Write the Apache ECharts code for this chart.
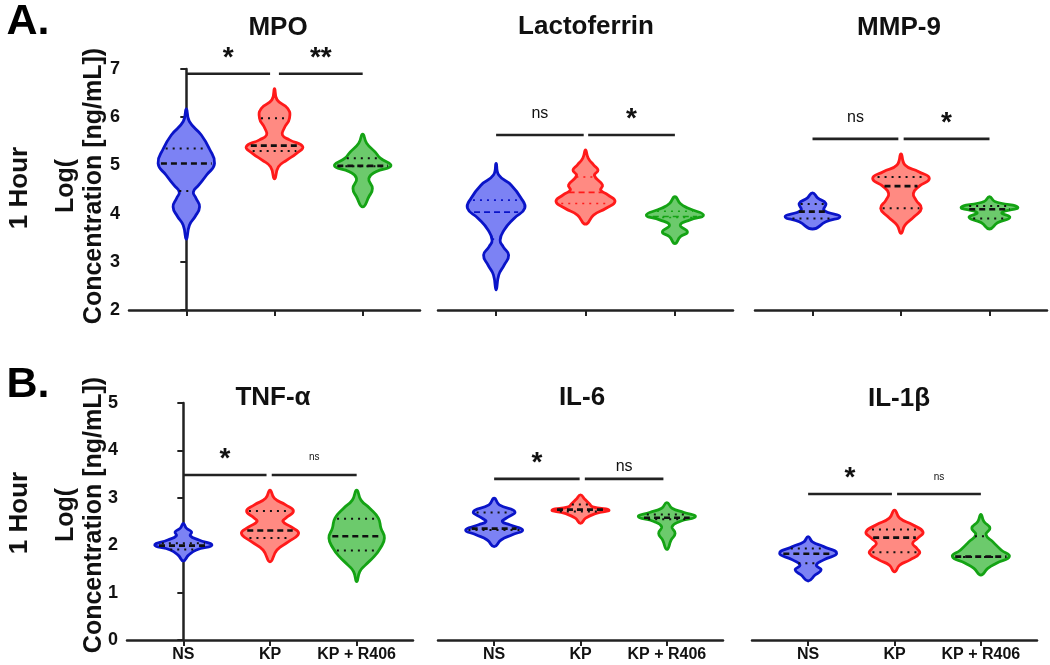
<!DOCTYPE html>
<html>
<head>
<meta charset="utf-8">
<script src="https://cdn.jsdelivr.net/npm/echarts@6/dist/echarts.min.js"></script>
<style>
html,body{margin:0;padding:0;background:#fff;}
#chart{width:1050px;height:665px;}
</style>
</head>
<body>
<div id="chart"></div>
<script>
// ---------------- DATA ----------------
const categories = ['NS', 'KP', 'KP + R406'];
const panelTitles = ['MPO', 'Lactoferrin', 'MMP-9', 'TNF-α', 'IL-6', 'IL-1β'];
const rowLetters = ['A.', 'B.'];
const rowName = '1 Hour';
const yAxisName = 'Log(\nConcentration [ng/mL])';
const topRange = [2, 7];
const bottomRange = [0, 5];

// violin profiles: [value, half-width (in category units)]
const mpoNS  = [[6.17,0],[5.91,0.035],[5.63,0.17],[5.35,0.26],[5.04,0.32],[4.80,0.23],[4.59,0.14],[4.45,0.08],[4.32,0.11],[4.14,0.15],[3.94,0.10],[3.76,0.035],[3.47,0]];
const mpoKP  = [[6.59,0],[6.36,0.03],[6.18,0.15],[5.98,0.17],[5.77,0.11],[5.63,0.09],[5.53,0.17],[5.39,0.32],[5.25,0.25],[5.11,0.14],[4.97,0.045],[4.72,0]];
const mpoKPR = [[5.65,0],[5.46,0.045],[5.28,0.14],[5.15,0.2],[4.99,0.32],[4.87,0.15],[4.73,0.07],[4.52,0.11],[4.35,0.07],[4.14,0]];

const lacNS  = [[5.04,0],[4.80,0.03],[4.59,0.17],[4.32,0.28],[4.11,0.32],[3.90,0.2],[3.66,0.09],[3.45,0.045],[3.31,0.08],[3.14,0.14],[2.93,0.09],[2.73,0.03],[2.42,0]];
const lacKP  = [[5.32,0],[5.15,0.03],[5.01,0.09],[4.90,0.14],[4.79,0.10],[4.59,0.19],[4.49,0.17],[4.39,0.25],[4.25,0.33],[4.11,0.23],[3.97,0.09],[3.78,0]];
const lacKPR = [[4.35,0],[4.21,0.06],[4.11,0.15],[3.97,0.32],[3.87,0.17],[3.76,0.06],[3.62,0.14],[3.52,0.06],[3.38,0]];

const mmpNS  = [[4.43,0],[4.32,0.06],[4.21,0.15],[4.07,0.13],[3.94,0.31],[3.83,0.15],[3.68,0]];
const mmpKP  = [[5.24,0],[5.01,0.045],[4.87,0.2],[4.73,0.32],[4.56,0.2],[4.42,0.14],[4.28,0.17],[4.11,0.23],[3.94,0.15],[3.76,0.045],[3.59,0]];
const mmpKPR = [[4.35,0],[4.25,0.06],[4.13,0.32],[4.02,0.14],[3.92,0.23],[3.81,0.09],[3.68,0]];

const tnfNS  = [[2.46,0],[2.36,0.035],[2.28,0.095],[2.20,0.08],[2.11,0.18],[2.00,0.33],[1.90,0.15],[1.79,0.06],[1.67,0]];
const tnfKP  = [[3.16,0],[2.99,0.05],[2.85,0.18],[2.72,0.27],[2.57,0.18],[2.50,0.15],[2.39,0.24],[2.25,0.33],[2.07,0.21],[1.90,0.08],[1.65,0]];
const tnfKPR = [[3.16,0],[2.95,0.05],[2.78,0.15],[2.57,0.25],[2.36,0.28],[2.15,0.32],[1.93,0.27],[1.76,0.2],[1.58,0.1],[1.44,0.035],[1.23,0]];

const il6NS  = [[2.99,0],[2.85,0.06],[2.71,0.24],[2.57,0.14],[2.50,0.095],[2.43,0.18],[2.32,0.33],[2.22,0.21],[2.11,0.08],[1.97,0]];
const il6KP  = [[3.06,0],[2.97,0.05],[2.88,0.1],[2.81,0.14],[2.74,0.33],[2.67,0.18],[2.57,0.06],[2.46,0]];
const il6KPR = [[2.90,0],[2.78,0.06],[2.69,0.2],[2.60,0.33],[2.50,0.15],[2.39,0.06],[2.25,0.095],[2.11,0.05],[1.91,0]];

const il1NS  = [[2.18,0],[2.07,0.05],[1.97,0.18],[1.83,0.33],[1.69,0.18],[1.58,0.095],[1.48,0.15],[1.37,0.08],[1.245,0]];
const il1KP  = [[2.74,0],[2.57,0.06],[2.43,0.21],[2.28,0.33],[2.15,0.27],[2.04,0.21],[1.93,0.26],[1.83,0.29],[1.69,0.18],[1.58,0.06],[1.44,0]];
const il1KPR = [[2.65,0],[2.50,0.035],[2.36,0.105],[2.22,0.06],[2.07,0.14],[1.90,0.235],[1.76,0.33],[1.62,0.18],[1.51,0.08],[1.37,0]];

// quartiles per group: [Q1, median, Q3]
const mpoQ = [[4.47,5.04,5.35],[5.30,5.41,5.98],[4.98,4.99,5.15]];
const lacQ = [[3.47,4.03,4.28],[4.21,4.44,4.76],[3.92,3.94,4.05]];
const mmpQ = [[3.90,4.04,4.20],[4.11,4.57,4.76],[3.90,4.09,4.16]];
const tnfQ = [[1.91,1.99,2.04],[2.15,2.31,2.72],[1.89,2.19,2.56]];
const il6Q = [[2.32,2.35,2.69],[2.71,2.75,2.86],[2.55,2.58,2.65]];
const il1Q = [[1.62,1.82,1.93],[1.85,2.16,2.33],[1.75,1.76,2.19]];

// significance brackets: [xStart, xEnd, level, label]
const mpoSig = [[0,0.95,6.9,'*'],[1.05,2,6.9,'**']];
const lacSig = [[0,0.98,5.63,'ns'],[1.03,2,5.63,'*']];
const mmpSig = [[0,0.97,5.55,'ns'],[1.03,2,5.55,'*']];
const tnfSig = [[0,0.96,3.48,'*'],[1.02,2,3.48,'ns']];
const il6Sig = [[0,0.99,3.40,'*'],[1.05,1.96,3.40,'ns']];
const il1Sig = [[0,0.97,3.08,'*'],[1.03,2,3.08,'ns']];

// ---------------- STYLE / LAYOUT ----------------
const profiles = [[mpoNS,mpoKP,mpoKPR],[lacNS,lacKP,lacKPR],[mmpNS,mmpKP,mmpKPR],[tnfNS,tnfKP,tnfKPR],[il6NS,il6KP,il6KPR],[il1NS,il1KP,il1KPR]];
const quartiles = [mpoQ, lacQ, mmpQ, tnfQ, il6Q, il1Q];
const sigs = [mpoSig, lacSig, mmpSig, tnfSig, il6Sig, il1Sig];
const sigLabelGaps = [[16,16],[21,16],[21,16],[16,18],[16,12],[16,17]];
const fills = ['#7C82F4', '#FF8A82', '#6CCA6C'];
const strokes = ['#0A14C8', '#FF1A1A', '#14A314'];
const coloredQuartilePanels = [1];
const smallNsPanels = [3, 5];
const grids = [
  {left:129, top:69, width:291, height:241},
  {left:438, top:69, width:295, height:241},
  {left:755, top:69, width:292, height:241},
  {left:127, top:403, width:286, height:237},
  {left:438, top:403, width:285, height:237},
  {left:752, top:403, width:285, height:237}
];
const titlePos = [[278,28],[586,27],[899,28],[273,398],[582,398],[899,399]];
const FONT = 'Liberation Sans, Arial, Helvetica, sans-serif';
const AX = '#222';

function widthAt(profile, v) {
  for (let i = 0; i < profile.length - 1; i++) {
    const a = profile[i], b = profile[i + 1];
    if (v <= a[0] && v >= b[0]) {
      const t = (a[0] - v) / (a[0] - b[0] || 1);
      return a[1] + t * (b[1] - a[1]);
    }
  }
  return 0;
}

const gridOpt = [], xAxes = [], yAxes = [], series = [];
for (let p = 0; p < 6; p++) {
  const top = p < 3;
  const range = top ? topRange : bottomRange;
  gridOpt.push(Object.assign({containLabel: false, outerBoundsMode: 'none'}, grids[p]));
  xAxes.push({
    type: 'value', gridIndex: p, min: -0.65, max: 2.65,
    splitLine: {show: false},
    axisLine: {show: true, onZero: false, lineStyle: {color: AX, width: 2.5}},
    axisTick: {show: true, customValues: [0,1,2], length: 6, lineStyle: {color: AX, width: 2}},
    axisLabel: {show: !top, customValues: [0,1,2], formatter: v => categories[Math.round(v)],
      fontFamily: FONT, fontWeight: 'bold', fontSize: 16, color: '#111', margin: 7}
  });
  const showY = (p === 0 || p === 3);
  yAxes.push({
    type: 'value', gridIndex: p, min: range[0], max: range[1], interval: 1,
    splitLine: {show: false},
    axisLine: {show: showY, lineStyle: {color: AX, width: 2.5}},
    axisTick: {show: showY, length: 6, lineStyle: {color: AX, width: 2}},
    axisLabel: {show: showY, fontFamily: FONT, fontWeight: 'bold', fontSize: 18, color: '#111', margin: 9}
  });

  // violins
  series.push({
    type: 'custom', xAxisIndex: p, yAxisIndex: p, clip: false, silent: true,
    data: quartiles[p].map((q, i) => [i, q[1]]),
    renderItem: function (params, api) {
      const i = params.dataIndex;
      const prof = profiles[p][i];
      const pts = [];
      for (let k = 0; k < prof.length; k++) pts.push(api.coord([i + prof[k][1], prof[k][0]]));
      for (let k = prof.length - 2; k >= 1; k--) pts.push(api.coord([i - prof[k][1], prof[k][0]]));
      const children = [{
        type: 'polygon', shape: {points: pts, smooth: 0.5},
        style: {fill: fills[i], stroke: strokes[i], lineWidth: 2.8, lineJoin: 'round'}
      }];
      const colored = coloredQuartilePanels.indexOf(p) >= 0;
      const q = quartiles[p][i];
      q.forEach((v, j) => {
        const hw = widthAt(prof, v) * 0.9;
        const a = api.coord([i - hw, v]), b = api.coord([i + hw, v]);
        const med = j === 1;
        children.push({
          type: 'line', shape: {x1: a[0], y1: a[1], x2: b[0], y2: b[1]},
          style: {
            stroke: colored ? strokes[i] : '#111',
            lineWidth: colored ? 1.6 : (med ? 2.6 : 2),
            lineDash: med ? [6, 4] : [2, 5]
          }
        });
      });
      return {type: 'group', children: children};
    }
  });

  // significance brackets
  series.push({
    type: 'custom', xAxisIndex: p, yAxisIndex: p, clip: false, silent: true,
    data: sigs[p].map(s => [s[0], s[2]]),
    renderItem: function (params, api) {
      const s = sigs[p][params.dataIndex];
      const a = api.coord([s[0], s[2]]), b = api.coord([s[1], s[2]]);
      const isStar = s[3].indexOf('*') >= 0;
      const small = !isStar && smallNsPanels.indexOf(p) >= 0;
      return {type: 'group', children: [
        {type: 'line', shape: {x1: a[0], y1: a[1], x2: b[0], y2: b[1]}, style: {stroke: AX, lineWidth: 2.6}},
        {type: 'text', x: (a[0] + b[0]) / 2, y: a[1] - sigLabelGaps[p][params.dataIndex],
          style: {text: s[3], fontFamily: FONT, fontWeight: isStar ? 'bold' : 'normal',
            fontSize: isStar ? 28 : (small ? 10 : 16), fill: '#111', align: 'center', verticalAlign: 'middle'}}
      ]};
    }
  });
}

const graphics = [];
panelTitles.forEach((t, i) => {
  graphics.push({type: 'text', x: titlePos[i][0], y: titlePos[i][1],
    style: {text: t, fontFamily: FONT, fontWeight: 'bold', fontSize: 26, fill: '#111', align: 'center', verticalAlign: 'middle'}});
});
[[28, 22], [28, 385]].forEach((pos, r) => {
  graphics.push({type: 'text', x: pos[0], y: pos[1],
    style: {text: rowLetters[r], fontFamily: FONT, fontWeight: 'bold', fontSize: 43, fill: '#000', align: 'center', verticalAlign: 'middle'}});
});
[[20, 188], [20, 513]].forEach(pos => {
  graphics.push({type: 'text', x: pos[0], y: pos[1], rotation: Math.PI / 2,
    style: {text: rowName, fontFamily: FONT, fontWeight: 'bold', fontSize: 26, fill: '#111', align: 'center', verticalAlign: 'middle'}});
});
[[80, 186], [80, 515]].forEach(pos => {
  graphics.push({type: 'text', x: pos[0], y: pos[1], rotation: Math.PI / 2,
    style: {text: yAxisName, fontFamily: FONT, fontWeight: 'bold', fontSize: 25, lineHeight: 28, fill: '#111', align: 'center', verticalAlign: 'middle'}});
});

const chart = echarts.init(document.getElementById('chart'), null, {renderer: 'canvas'});
chart.setOption({
  animation: false,
  backgroundColor: '#fff',
  grid: gridOpt,
  xAxis: xAxes,
  yAxis: yAxes,
  series: series,
  graphic: graphics
});
</script>
</body>
</html>
